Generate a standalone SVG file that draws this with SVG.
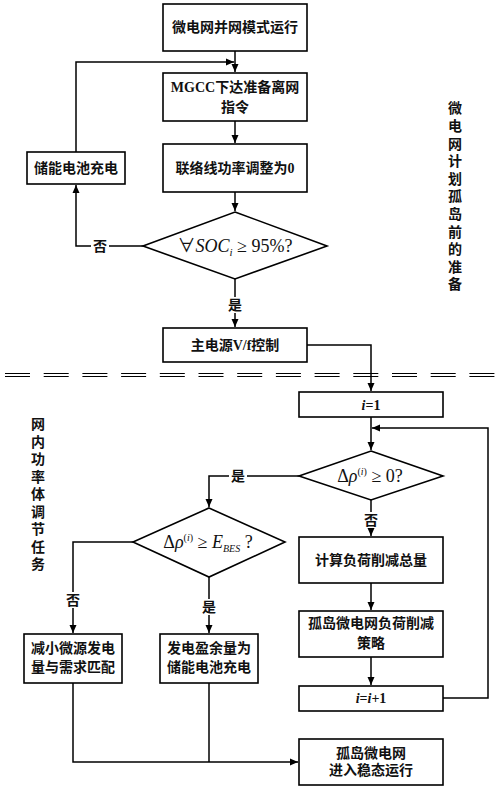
<svg xmlns="http://www.w3.org/2000/svg" width="500" height="791" viewBox="0 0 500 791">
<style>
.box{fill:#fff;stroke:#000;stroke-width:1.6}
.t{font-family:"Liberation Serif","Noto Sans CJK SC",serif;font-size:14px;font-weight:bold;text-anchor:middle;fill:#111}
.m{font-family:"Liberation Serif","Noto Sans CJK SC",serif;font-size:18px;text-anchor:middle;fill:#111}
.v{font-family:"Noto Sans CJK SC",sans-serif;font-size:14px;font-weight:bold;fill:#111;writing-mode:vertical-rl}
.c{fill:none;stroke:#000;stroke-width:1.5}
.lb{fill:#fff}
</style>
<defs>
<marker id="a" markerUnits="userSpaceOnUse" markerWidth="9" markerHeight="8" refX="8" refY="4" orient="auto">
<path d="M0,0.5 L8,4 L0,7.5 z" fill="#000"/>
</marker>
</defs>
<rect width="500" height="791" fill="#fff"/>

<g id="sep" stroke="#000" stroke-width="1.2" stroke-dasharray="25 13.7">
<line x1="5" y1="373.5" x2="500" y2="373.5"/>
<line x1="5" y1="376.5" x2="500" y2="376.5"/>
</g>

<g id="connectors">
<path class="c" d="M235,51 V72" marker-end="url(#a)"/>
<path class="c" d="M76,152 V62 H234" marker-end="url(#a)"/>
<path class="c" d="M235,121 V143" marker-end="url(#a)"/>
<path class="c" d="M235,192 V211" marker-end="url(#a)"/>
<path class="c" d="M143,246 H76 V185" marker-end="url(#a)"/>
<path class="c" d="M235,279 V327" marker-end="url(#a)"/>
<path class="c" d="M307,345 H371 V391" marker-end="url(#a)"/>
<path class="c" d="M371,417 V450" marker-end="url(#a)"/>
<path class="c" d="M443,698 H488 V428 H372" marker-end="url(#a)"/>
<path class="c" d="M299,476 H209 V507" marker-end="url(#a)"/>
<path class="c" d="M371,500 V536" marker-end="url(#a)"/>
<path class="c" d="M133,542 H73 V633" marker-end="url(#a)"/>
<path class="c" d="M209,577 V633" marker-end="url(#a)"/>
<path class="c" d="M371,583 V610" marker-end="url(#a)"/>
<path class="c" d="M371,657 V685" marker-end="url(#a)"/>
<path class="c" d="M73,683 V762 H298" marker-end="url(#a)"/>
<path class="c" d="M209,683 V762"/>
<g id="labels">
<rect class="lb" x="91" y="238" width="18" height="16"/>
<text class="t" x="100" y="251">否</text>
<rect class="lb" x="226" y="297" width="18" height="16"/>
<text class="t" x="235" y="310">是</text>
<rect class="lb" x="229" y="468" width="18" height="16"/>
<text class="t" x="238" y="481">是</text>
<rect class="lb" x="362" y="512" width="18" height="16"/>
<text class="t" x="371" y="525">否</text>
<rect class="lb" x="64" y="592" width="18" height="16"/>
<text class="t" x="73" y="605">否</text>
<rect class="lb" x="200" y="599" width="18" height="16"/>
<text class="t" x="209" y="612">是</text>
</g>
</g>

<g id="n1"><rect class="box" x="163" y="4" width="144" height="47"/><text class="t" x="235" y="32">微电网并网模式运行</text></g>
<g id="n2"><rect class="box" x="163" y="73" width="144" height="48"/><text class="t" x="235" y="92">MGCC下达准备离网</text><text class="t" x="235" y="112">指令</text></g>
<g id="n3"><rect class="box" x="163" y="144" width="144" height="48"/><text class="t" x="235" y="173">联络线功率调整为0</text></g>
<g id="n4"><rect class="box" x="27" y="152" width="98" height="32"/><text class="t" x="76" y="173">储能电池充电</text></g>
<g id="d1"><polygon class="box" points="235,212 327,246 235,279 143,246"/>
<text class="m" x="235" y="252">∀<tspan font-style="italic">SOC</tspan><tspan font-style="italic" font-size="11" dy="4">i</tspan><tspan dy="-4"> ≥ 95%?</tspan></text></g>
<g id="n5"><rect class="box" x="163" y="328" width="144" height="34"/><text class="t" x="235" y="350">主电源V/f控制</text></g>
<g id="n6"><rect class="box" x="299" y="392" width="144" height="25"/><text class="t" x="371" y="410"><tspan font-style="italic">i</tspan>=1</text></g>
<g id="d2"><polygon class="box" points="371,451 443,476 371,500 299,476"/>
<text class="m" x="370" y="482">Δ<tspan font-style="italic">ρ</tspan><tspan font-size="10" dy="-7">(<tspan font-style="italic">i</tspan>)</tspan><tspan dy="7"> ≥ 0?</tspan></text></g>
<g id="d3"><polygon class="box" points="209,508 285,542 209,577 133,542"/>
<text class="m" x="208" y="548">Δ<tspan font-style="italic">ρ</tspan><tspan font-size="10" dy="-7">(<tspan font-style="italic">i</tspan>)</tspan><tspan dy="7"> ≥ </tspan><tspan font-style="italic">E</tspan><tspan font-style="italic" font-size="10" dy="4">BES</tspan><tspan dy="-4"> ?</tspan></text></g>
<g id="n7"><rect class="box" x="299" y="537" width="144" height="46"/><text class="t" x="371" y="565">计算负荷削减总量</text></g>
<g id="n8"><rect class="box" x="24" y="634" width="98" height="49"/><text class="t" x="73" y="653">减小微源发电</text><text class="t" x="73" y="672">量与需求匹配</text></g>
<g id="n9"><rect class="box" x="160" y="634" width="98" height="49"/><text class="t" x="209" y="653">发电盈余量为</text><text class="t" x="209" y="672">储能电池充电</text></g>
<g id="n10"><rect class="box" x="299" y="611" width="144" height="46"/><text class="t" x="371" y="628">孤岛微电网负荷削减</text><text class="t" x="371" y="648">策略</text></g>
<g id="n11"><rect class="box" x="299" y="686" width="144" height="25"/><text class="t" x="371" y="703"><tspan font-style="italic">i</tspan>=<tspan font-style="italic">i</tspan>+1</text></g>
<g id="n12"><rect class="box" x="299" y="739" width="144" height="46"/><text class="t" x="371" y="758">孤岛微电网</text><text class="t" x="371" y="775">进入稳态运行</text></g>

<g id="side1"><text class="v" x="455" y="101" letter-spacing="3.6">微电网计划孤岛前的准备</text></g>
<g id="side2"><text class="v" x="38" y="417" letter-spacing="3.5">网内功率体调节任务</text></g>
</svg>
